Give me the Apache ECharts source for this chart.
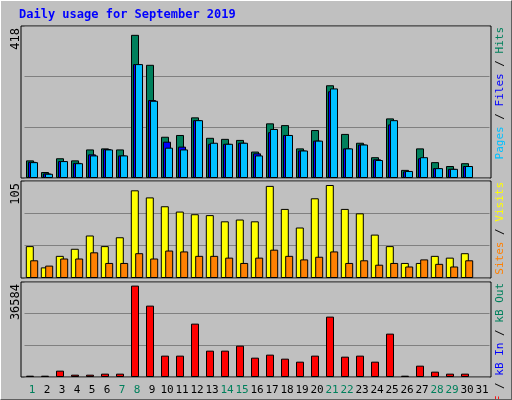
<!DOCTYPE html>
<html><head><meta charset="utf-8">
<script src="https://cdn.jsdelivr.net/npm/echarts@6/dist/echarts.min.js"></script>
<style>
html,body{margin:0;padding:0;background:#c0c0c0;}
#c{width:510px;height:398px;border-left:1px solid #fff;border-top:1px solid #fff;border-right:1px solid #606060;border-bottom:1px solid #606060;}
</style></head><body>
<div id="c"></div>
<script>
const title = 'Daily usage for September 2019';
const days = ['1','2','3','4','5','6','7','8','9','10','11','12','13','14','15','16','17','18','19','20','21','22','23','24','25','26','27','28','29','30','31'];
const weekendDays = ['1','7','8','14','15','21','22','28','29'];
const hits  = [50,17,56,50,81,84,81,406,321,117,122,172,114,111,108,75,155,150,84,136,263,125,100,59,169,23,84,45,34,42,'-'];
const files = [46,13,48,43,67,82,64,323,221,103,89,164,97,97,100,70,130,122,78,106,246,84,95,53,152,19,56,28,26,34,'-'];
const pages = [45,12,48,42,64,81,64,323,219,86,81,164,100,97,100,64,139,122,78,106,254,84,95,51,164,20,59,28,26,34,'-'];
const visits = [36,12,25,33,48,36,46,99,91,81,75,72,71,64,66,64,104,78,57,90,105,78,73,49,36,17,17,25,23,28,'-'];
const sites  = [20,14,22,22,29,17,17,28,22,31,30,25,25,23,17,23,32,25,21,24,30,17,20,15,17,13,21,16,13,20,'-'];
const kbF = [530,530,2540,930,930,1340,1340,36584,28570,8550,8550,21360,10550,10550,12550,7740,8950,7340,6140,8550,24170,8140,8550,6140,17360,530,4540,2140,1340,1340,'-'];
const maxLabels = ['418','105','36584'];
const maxVals = [418,105,36584];

const chart = echarts.init(document.getElementById('c'));
const FONT = 'DejaVu Sans Mono';
const grids = [{top:25,height:152},{top:180,height:97},{top:281,height:95}];
const scale = [152/147.4, 97/93, 95/91.4];
const bs = {borderColor:'#000',borderWidth:1};
function bar(name,data,color,gi,gap){
  return {type:'bar',name,data,xAxisIndex:gi,yAxisIndex:gi,barWidth:8,barGap:gap,
    itemStyle:Object.assign({color},bs),animation:false,silent:true};
}
const series = [
  bar('Hits',hits,'#00805c',0,'-75%'),
  bar('Files',files,'#0000ff',0,'-75%'),
  bar('Pages',pages,'#00c0ff',0,'-75%'),
  bar('Visits',visits,'#ffff00',1,'-45%'),
  bar('Sites',sites,'#ff8000',1,'-45%'),
  bar('kB F',kbF,'#ff0000',2,'-75%'),
  bar('kB In',days.map(()=>'-'),'#0000ff',2,'-75%'),
  bar('kB Out',days.map(()=>'-'),'#00805c',2,'-75%')
];
const xAxis = grids.map((g,i)=>({type:'category',gridIndex:i,data:days,
  axisLine:{show:false},axisTick:{show:false},
  axisLabel:{show:i===2,fontFamily:FONT,fontSize:11,margin:8,interval:0,
    color:(v)=>weekendDays.includes(v)?'#00805c':'#000'}}));
const yAxis = grids.map((g,i)=>{const m=maxVals[i]*scale[i];return {type:'value',gridIndex:i,min:0,max:m,interval:m/3,
  axisLabel:{show:false},axisLine:{show:false},axisTick:{show:false},
  splitLine:{lineStyle:{color:'#808080',width:1}}};});
function vtext(y,parts){
  return {type:'text',x:505,y:y,rotation:Math.PI/2,
    style:{text:parts.map(p=>'{'+p[1]+'|'+p[0]+'}').join(''),font:'11px '+FONT,
      rich:{g:{fill:'#00805c',font:'11px '+FONT},b:{fill:'#0000ff',font:'11px '+FONT},c:{fill:'#00c0ff',font:'11px '+FONT},
        k:{fill:'#000',font:'11px '+FONT},y:{fill:'#ffff00',font:'11px '+FONT},o:{fill:'#ff8000',font:'11px '+FONT},r:{fill:'#ff0000',font:'11px '+FONT}},
      align:'right',verticalAlign:'bottom'}};
}
const graphic = [
  {type:'text',left:18,top:8,style:{text:title,font:'bold 12px '+FONT,fill:'#0000ff'}},
  vtext(26,[['Pages','c'],[' / ','k'],['Files','b'],[' / ','k'],['Hits','g']]),
  vtext(181,[['Sites','o'],[' / ','k'],['Visits','y']]),
  vtext(282,[['kB F','r'],[' / ','k'],['kB In','b'],[' / ','k'],['kB Out','g']])
];
[25,180,281].forEach((y,i)=>{
  graphic.push({type:'text',x:9,y:y+2,rotation:Math.PI/2,style:{text:maxLabels[i],font:'12px '+FONT,fill:'#000',align:'right',verticalAlign:'top'}});
  graphic.push({type:'rect',shape:{x:20,y:y,width:470,height:grids[i].height},style:{fill:'none',stroke:'#000',lineWidth:1},z:-1});
});
chart.setOption({backgroundColor:'#c0c0c0',animation:false,
  grid:grids.map(g=>({left:23.5,width:465,top:g.top,height:g.height})),
  xAxis,yAxis,series,graphic});
</script></body></html>
